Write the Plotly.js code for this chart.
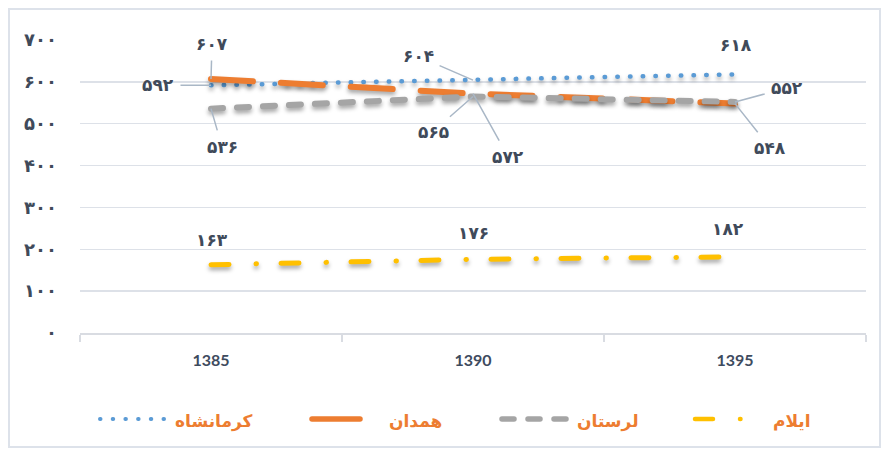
<!DOCTYPE html>
<html>
<head>
<meta charset="utf-8">
<script src="https://cdn.plot.ly/plotly-3.0.1.min.js"></script>
<style>
  html, body { margin: 0; padding: 0; background: #fff; }
  #chart { width: 885px; height: 453px; }
  #frame { position: absolute; left: 8px; top: 8px; width: 869px; height: 436px; border: 2px solid #dde2ea; pointer-events: none; }
  .js-line, .shapelayer path { stroke-linecap: round !important; }
  .scatterlayer .js-line { filter: drop-shadow(0px 3px 2px rgba(0,0,0,0.35)); }
</style>
</head>
<body>
<div id="chart"></div>
<div id="frame"></div>
<script>
// ---- data ----
const years = ['1385', '1390', '1395'];
const seriesNames = ['کرمانشاه', 'همدان', 'لرستان', 'ایلام'];
const kermanshah = [592, 604, 618];
const hamedan = [607, 572, 548];
const lorestan = [536, 565, 552];
const ilam = [163, 176, 182];
const yTickVals = [0, 100, 200, 300, 400, 500, 600, 700];

// ---- helpers ----
const faDigits = '۰۱۲۳۴۵۶۷۸۹';
function toFa(n) { return String(n).replace(/[0-9]/g, d => faDigits[+d]); }

const W = 885, H = 453, M = {l: 80, r: 19, t: 40, b: 120};
const PW = W - M.l - M.r, PH = H - M.t - M.b;
const px = x => (x - M.l) / PW;
const py = y => (H - M.b - y) / PH;

const colors = ['#5b9bd5', '#ed7d31', '#a5a5a5', '#ffc000'];
const widths = [4.5, 6, 6, 5];
const dashes = ['0.5px,12.2px', '42px,28px', '12px,14px', '18px,27px,0.5px,24.5px'];
const allSeries = [kermanshah, hamedan, lorestan, ilam];

const traces = allSeries.map((vals, i) => ({
  type: 'scatter', mode: 'lines', name: seriesNames[i],
  x: years, y: vals, showlegend: false,
  line: {color: colors[i], width: widths[i], dash: dashes[i]},
  hoverinfo: 'skip'
}));

const labelFont = {family: 'DejaVu Sans', size: 17, color: '#404a5a', weight: 'bold'};
const leader = '#a9b7c6';
function lab(series, idx, opts) {
  // category axis: annotation x is the category's index
  const a = Object.assign({
    xref: 'x', yref: 'y', x: idx, y: series[idx], text: toFa(series[idx]),
    font: labelFont, showarrow: false
  }, opts);
  if (a.showarrow) { a.arrowhead = 0; a.arrowcolor = leader; a.arrowwidth = 1.5; a.startstandoff = 5; }
  return a;
}

const annotations = [
  lab(hamedan, 0, {showarrow: true, ax: 1, ay: -35}),
  lab(kermanshah, 0, {showarrow: true, ax: -53, ay: 0}),
  lab(lorestan, 0, {showarrow: true, ax: 11, ay: 38}),
  lab(kermanshah, 1, {showarrow: true, ax: -55, ay: -24}),
  lab(lorestan, 1, {showarrow: true, ax: -40, ay: 35}),
  lab(hamedan, 1, {showarrow: true, ax: 35, ay: 63}),
  lab(kermanshah, 2, {yshift: 29, xshift: 1}),
  lab(lorestan, 2, {showarrow: true, ax: 52, ay: -14}),
  lab(hamedan, 2, {showarrow: true, ax: 35, ay: 44}),
  lab(ilam, 0, {yshift: 25, xshift: 1}),
  lab(ilam, 1, {yshift: 26}),
  lab(ilam, 2, {yshift: 28, xshift: -7})
];

// ---- custom legend ----
const legendSym = [[98, 165], [310, 360], [500, 570], [693, 748]];
const legendTextX = [214, 415, 608, 792];
const legY = 419;
const shapes = [];
seriesNames.forEach((nm, i) => {
  shapes.push({type: 'line', xref: 'paper', yref: 'paper',
    x0: px(legendSym[i][0] + 2), x1: px(legendSym[i][1]), y0: py(legY), y1: py(legY),
    line: {color: colors[i], width: widths[i] - 0.5, dash: i === 1 ? 'solid' : dashes[i]}});
  annotations.push({xref: 'paper', yref: 'paper', x: px(legendTextX[i]), y: py(legY + 2),
    text: nm, showarrow: false, xanchor: 'center', yanchor: 'middle',
    font: {family: 'DejaVu Sans', size: 17, color: '#ed7d31', weight: 'bold'}});
});

const layout = {
  width: W, height: H, margin: M,
  paper_bgcolor: '#fff', plot_bgcolor: '#fff',
  showlegend: false,
  xaxis: {
    type: 'category', range: [-0.5, 2.5], showgrid: false,
    showline: true, linecolor: '#d9dce2', linewidth: 1.5,
    ticks: 'outside', tickson: 'boundaries', ticklen: 7, tickcolor: '#d9dce2', tickwidth: 1.5,
    tickfont: {family: 'Lato', size: 16, color: '#3e4b5e', weight: 'bold'},
    ticklabelstandoff: 12, fixedrange: true
  },
  yaxis: {
    range: [0, 700], tickvals: yTickVals, ticktext: yTickVals.map(toFa),
    showgrid: true, gridcolor: '#dde1e8', gridwidth: 1.5, zeroline: false,
    showline: false, ticks: '', ticklabelstandoff: 22,
    tickfont: {family: 'DejaVu Sans', size: 18, color: '#404a5a', weight: 'bold'},
    fixedrange: true
  },
  annotations: annotations,
  shapes: shapes
};

Plotly.newPlot('chart', traces, layout, {displayModeBar: false, staticPlot: true});
</script>
</body>
</html>
